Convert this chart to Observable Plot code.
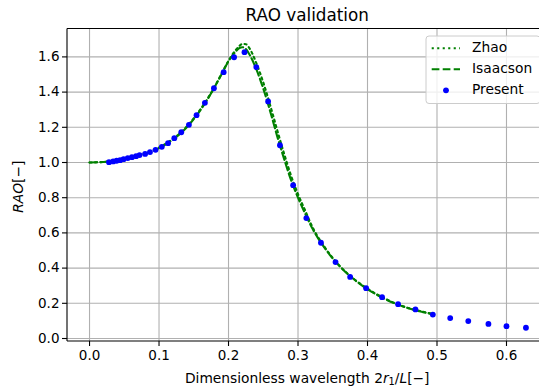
<!DOCTYPE html>
<html><head><meta charset="utf-8">
<script src="https://cdn.jsdelivr.net/npm/d3@7"></script>
<script src="https://cdn.jsdelivr.net/npm/@observablehq/plot@0.6"></script>
<style>
body{margin:0;background:#fff;}
#chart{position:relative;width:539px;height:391px;overflow:hidden;}
</style>
</head><body><div id="chart"></div>
<script>
// ---- data ----
const presentX = [0.028,0.034,0.039,0.044,0.049,0.055,0.061,0.067,0.072,0.080,0.087,0.095,0.104,0.113,0.122,0.132,0.143,0.154,0.166,0.179,0.193,0.208,0.223,0.240,0.257,0.274,0.293,0.312,0.333,0.354,0.375,0.398,0.421,0.444,0.469,0.494,0.519,0.545,0.574,0.600,0.628];
const presentY = [1.002,1.006,1.010,1.013,1.019,1.025,1.030,1.036,1.042,1.049,1.059,1.072,1.089,1.110,1.138,1.172,1.214,1.269,1.339,1.422,1.513,1.598,1.627,1.542,1.347,1.098,0.871,0.684,0.544,0.434,0.350,0.286,0.235,0.195,0.165,0.136,0.116,0.099,0.083,0.070,0.061];

const zhaoX = [0,0.02,0.04,0.06,0.08,0.10,0.12,0.14,0.16,0.18,0.19,0.20,0.21,0.215,0.22,0.225,0.23,0.24,0.25,0.26,0.27,0.28,0.29,0.30,0.31,0.32,0.34,0.36,0.38,0.40,0.42,0.44,0.46,0.48,0.494];
const zhaoY = [1.0,1.003,1.012,1.029,1.052,1.085,1.134,1.205,1.305,1.430,1.505,1.578,1.637,1.660,1.674,1.672,1.650,1.565,1.455,1.325,1.185,1.050,0.925,0.820,0.730,0.640,0.510,0.412,0.340,0.283,0.237,0.200,0.172,0.152,0.140];

const isaacsonX = [0,0.02,0.04,0.06,0.08,0.10,0.12,0.14,0.16,0.18,0.19,0.20,0.21,0.215,0.22,0.225,0.23,0.24,0.25,0.26,0.27,0.28,0.29,0.30,0.31,0.32,0.34,0.36,0.38,0.40,0.42,0.44,0.46,0.48,0.494];
const isaacsonY = [1.0,1.003,1.011,1.028,1.050,1.082,1.130,1.200,1.300,1.428,1.502,1.575,1.628,1.648,1.655,1.645,1.615,1.530,1.420,1.290,1.150,1.020,0.900,0.800,0.712,0.630,0.505,0.410,0.338,0.280,0.235,0.198,0.170,0.150,0.138];

const xTicks = [0,0.1,0.2,0.3,0.4,0.5,0.6];
const yTicks = [0,0.2,0.4,0.6,0.8,1.0,1.2,1.4,1.6];
const seriesNames = ["Zhao","Isaacson","Present"];
const titleText = "RAO validation";

// ---- tables ----
const present = presentX.map((x,i)=>({x, y:presentY[i]}));
const zhao = zhaoX.map((x,i)=>({x, y:zhaoY[i]}));
const isaacson = isaacsonX.map((x,i)=>({x, y:isaacsonY[i]}));

const GREEN = "#008000", BLUE = "#0000ff", GRID = "#b0b0b0";
const FONT = "DejaVu Sans";

const plot = Plot.plot({
  width: 539, height: 391,
  marginLeft: 67, marginTop: 28.5, marginBottom: 50, marginRight: 0,
  style: {fontFamily: FONT, fontSize: "13.5px", background: "white", color: "black"},
  x: {domain: [-0.0317, 0.6475], ticks: xTicks, tickFormat: d3.format(".1f")},
  y: {domain: [-0.017, 1.7585], ticks: yTicks, tickFormat: d3.format(".1f")},
  marks: [
    Plot.gridX(xTicks, {stroke: GRID, strokeOpacity: 1, strokeWidth: 1.1}),
    Plot.gridY(yTicks, {stroke: GRID, strokeOpacity: 1, strokeWidth: 1.1}),
    Plot.axisX(xTicks, {tickSize: 5, tickPadding: 4, fontSize: 13.5, label: null, tickFormat: d3.format(".1f"), strokeWidth: 1.1}),
    Plot.axisY(yTicks, {tickSize: 5, tickPadding: 3, fontSize: 13.5, label: null, tickFormat: d3.format(".1f"), strokeWidth: 1.1}),
    Plot.line(zhao, {x: "x", y: "y", stroke: GREEN, strokeWidth: 2.1, strokeDasharray: "2.1,3.4", curve: "monotone-x"}),
    Plot.line(isaacson, {x: "x", y: "y", stroke: GREEN, strokeWidth: 2.1, strokeDasharray: "7.7,3.3", curve: "monotone-x"}),
    Plot.dot(present, {x: "x", y: "y", r: 2.9, fill: BLUE, stroke: "none"})
  ]
});

document.getElementById("chart").appendChild(plot);

// ---- decorations (frame, labels, legend) ----
const svg = d3.select(plot);
const sx = plot.scale("x"), sy = plot.scale("y");
const [x0, x1] = sx.range, [yb, yt] = sy.range;
const axRight = sx.apply(0.6597); // full matplotlib axes right edge (cropped)
const cx = (x0 + axRight) / 2;

const g = svg.append("g").attr("text-anchor", "start");
// frame: left, top, bottom
g.append("path").attr("d", `M${x0},${yt}V${yb}M${x0},${yt}H${x1}M${x0},${yb}H${x1}`)
  .attr("stroke", "black").attr("stroke-width", 1.1).attr("fill", "none");

// title
g.append("text").attr("x", cx).attr("y", 15.5).attr("text-anchor", "middle").attr("dominant-baseline", "middle")
  .attr("font-family", FONT).attr("font-size", 16.8).attr("fill", "black").text(titleText);

// x label
const xl = g.append("text").attr("x", cx).attr("y", 378.5).attr("text-anchor", "middle").attr("dominant-baseline", "middle")
  .attr("font-family", FONT).attr("font-size", 13.8).attr("fill", "black");
xl.append("tspan").text("Dimensionless wavelength 2");
xl.append("tspan").attr("font-style", "italic").text("r");
xl.append("tspan").attr("font-size", 9.8).attr("dy", 3).text("1");
xl.append("tspan").attr("dy", -3).text("/");
xl.append("tspan").attr("font-style", "italic").text("L");
xl.append("tspan").text("[−]");

// y label
const yl = g.append("text").attr("transform", `translate(18.5,${(yt + yb) / 2 + 2}) rotate(-90)`)
  .attr("text-anchor", "middle").attr("dominant-baseline", "middle")
  .attr("font-family", FONT).attr("font-size", 13.8).attr("fill", "black");
yl.append("tspan").attr("font-style", "italic").text("RAO");
yl.append("tspan").text("[−]");

// legend
const lg = g.append("g");
lg.append("rect").attr("x", 426).attr("y", 36).attr("width", 114).attr("height", 67.5).attr("rx", 3)
  .attr("fill", "white").attr("fill-opacity", 0.8).attr("stroke", "#cccccc").attr("stroke-width", 1);
const rowsY = [48.3, 69.3, 90.3];
const dashes = ["2.1,3.4", "7.7,3.3"];
seriesNames.forEach((name, i) => {
  const yy = rowsY[i];
  if (i < 2) {
    lg.append("line").attr("x1", 431.7).attr("x2", 460).attr("y1", yy).attr("y2", yy)
      .attr("stroke", GREEN).attr("stroke-width", 2.1).attr("stroke-dasharray", dashes[i]);
  } else {
    lg.append("circle").attr("cx", 446).attr("cy", yy).attr("r", 2.9).attr("fill", BLUE);
  }
  lg.append("text").attr("x", 472).attr("y", yy).attr("text-anchor", "start").attr("dominant-baseline", "middle")
    .attr("font-family", FONT).attr("font-size", 13.8).attr("fill", "black").text(name);
});
</script>
</body></html>
